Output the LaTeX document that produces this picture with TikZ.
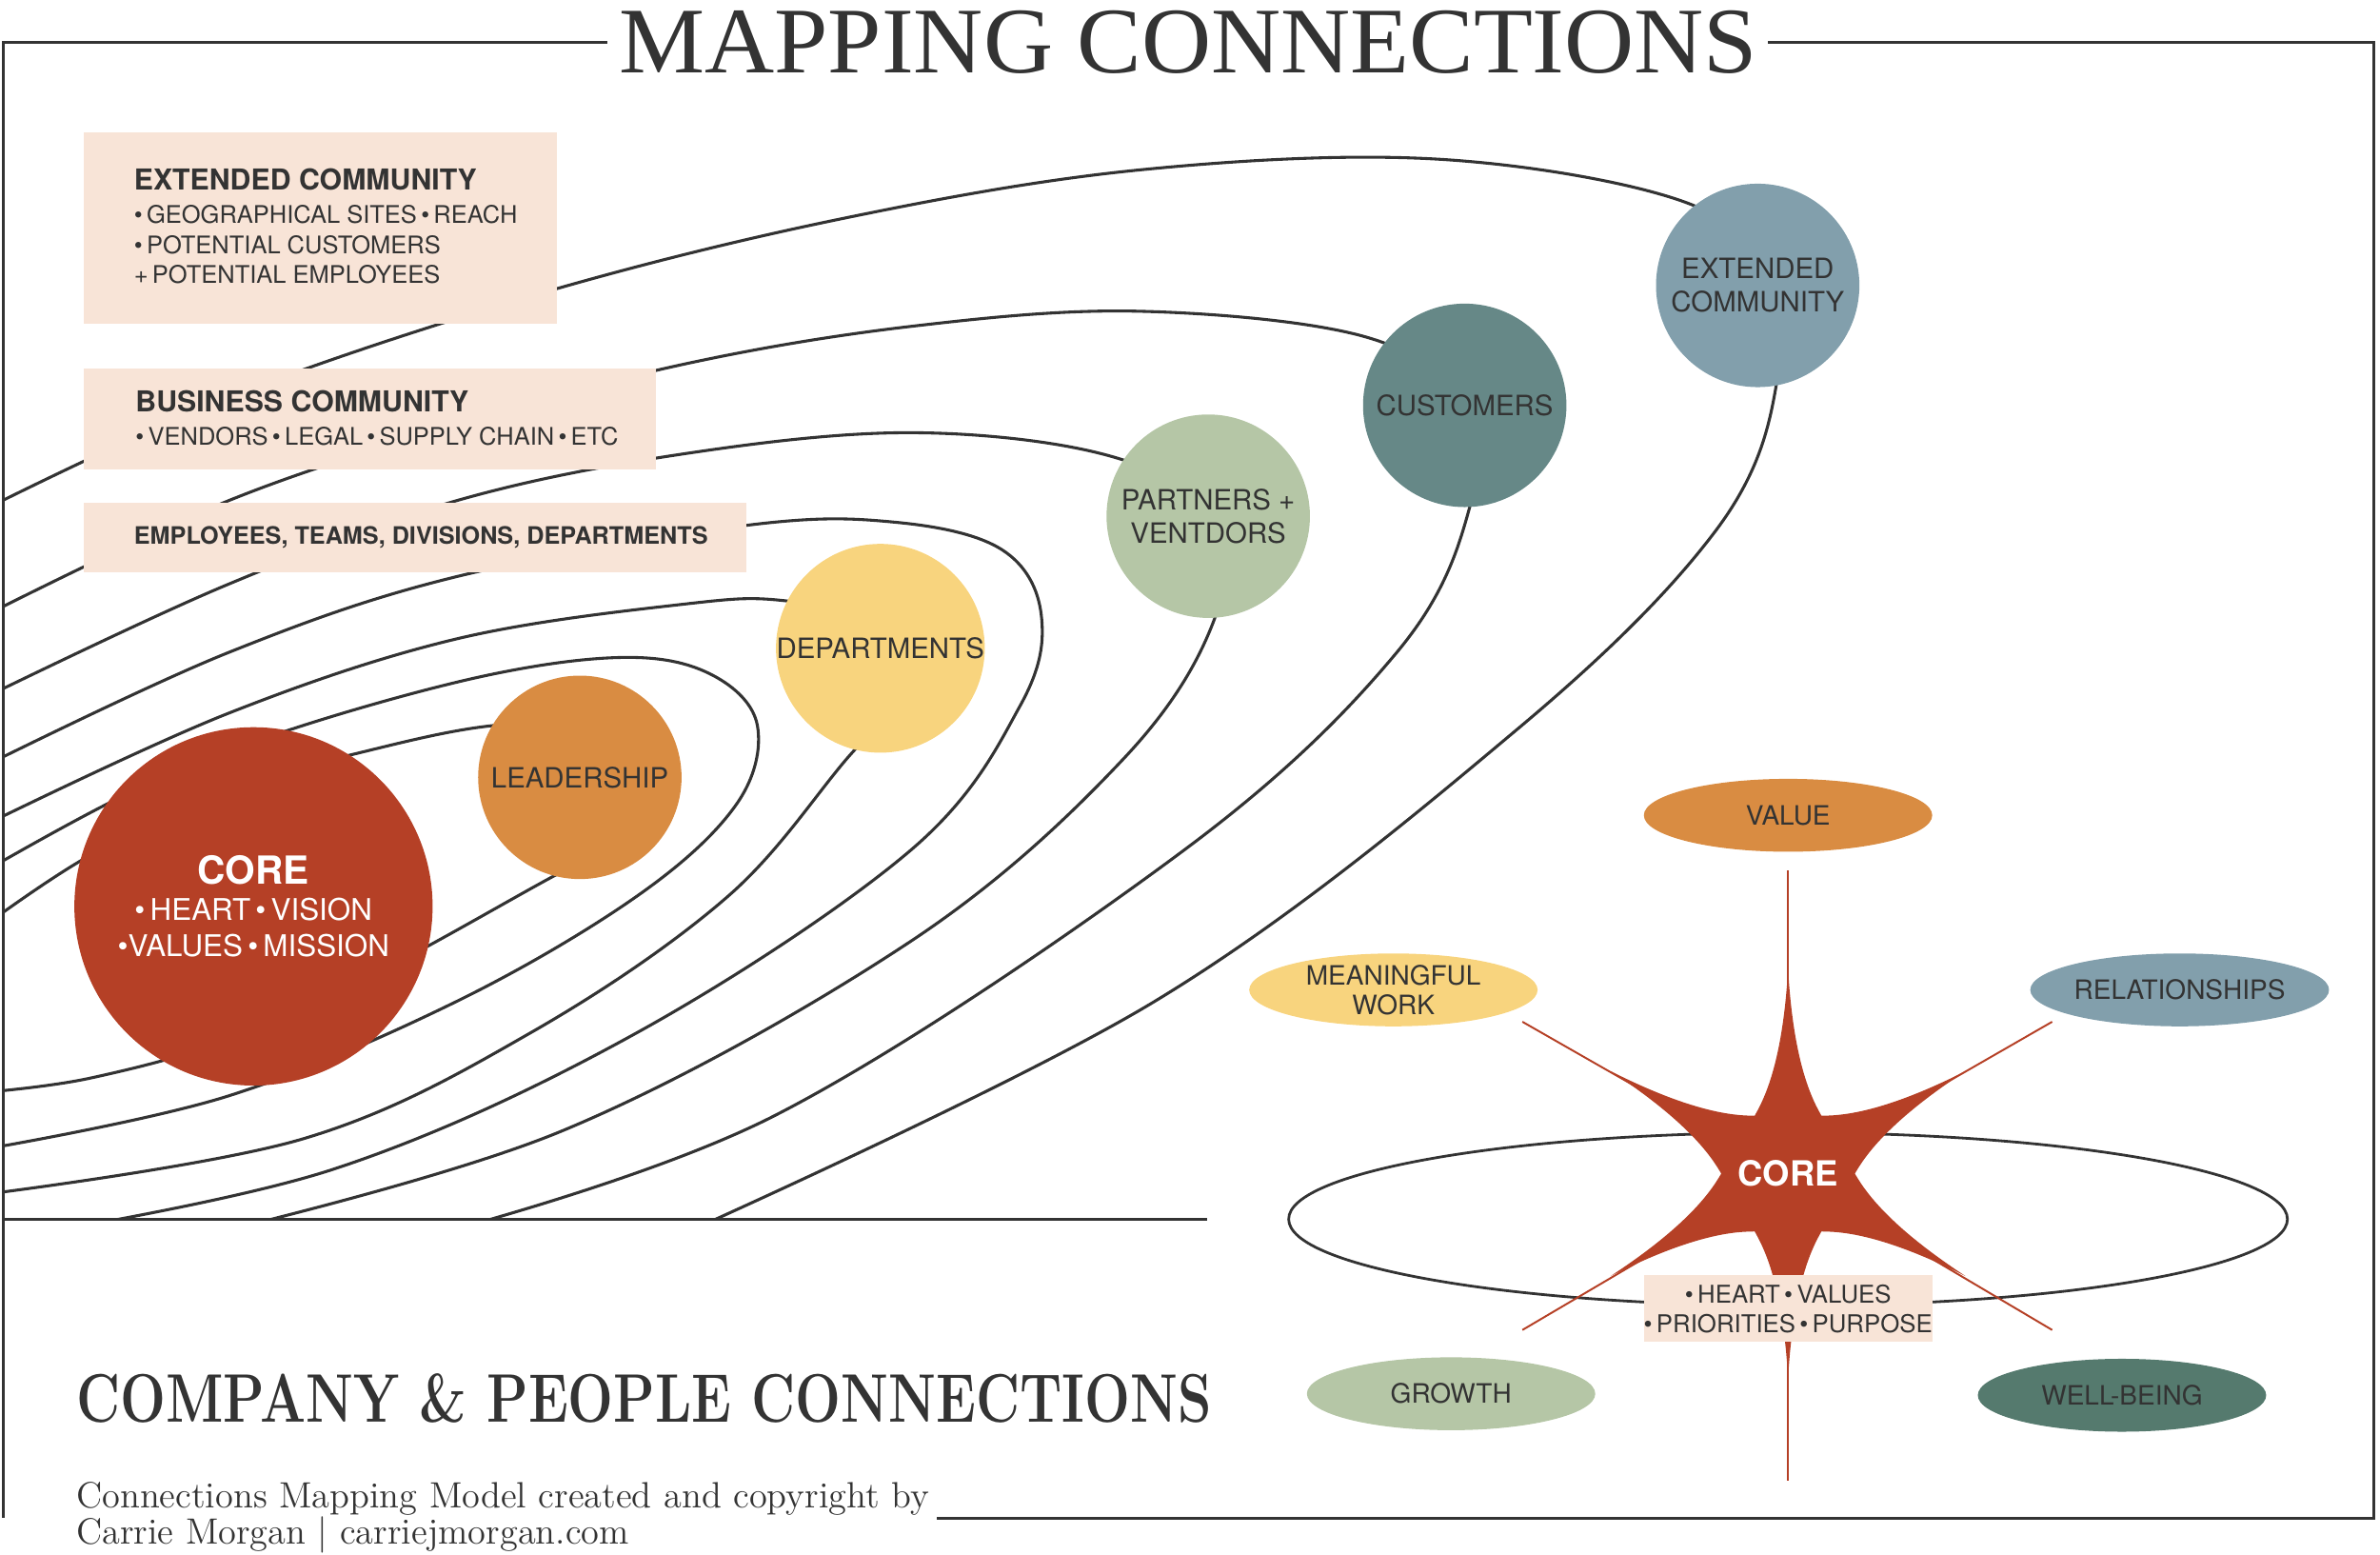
\documentclass[tikz,border=0pt]{standalone}
\usepackage{fontspec}
\usetikzlibrary{shapes.geometric}
\newfontfamily\hv{TeX Gyre Heros}
\newfontfamily\tserif{Liberation Serif}
\definecolor{ink}{HTML}{333333}
\definecolor{peach}{HTML}{F8E4D7}
\definecolor{cred}{HTML}{B54026}
\definecolor{corange}{HTML}{D98C42}
\definecolor{cyellow}{HTML}{F8D47E}
\definecolor{csage}{HTML}{B5C6A6}
\definecolor{cteal}{HTML}{668887}
\definecolor{cblue}{HTML}{829FAC}
\definecolor{cdkgreen}{HTML}{557A6E}
\begin{document}
\begin{tikzpicture}[x=0.02cm,y=-0.02cm,
  orbit/.style={draw=ink,line width=1.1pt},
  planet/.style={circle,minimum size=134*0.02cm,inner sep=0pt,align=center,text=ink,font=\hv\fontsize{10.5}{12.5}\selectfont},
  pill/.style={ellipse,minimum width=190*0.02cm,minimum height=48*0.02cm,inner sep=0pt,align=center,text=ink,font=\hv\fontsize{10}{11}\selectfont},
  ray/.style={draw=cred,line width=0.7pt}]
\useasboundingbox (0,0) rectangle (1568,1023.6);
% frame
\draw[ink,line width=1pt] (400,28) -- (2,28) -- (2,1000);
\draw[ink,line width=1pt] (1165,28) -- (1564,28) -- (1564,1000) -- (617,1000);
\draw[ink,line width=1pt] (2,803) -- (795,803);
\node[anchor=base,inner sep=0pt,text=ink,font=\tserif\fontsize{32}{36}\selectfont] (title) at (783,48) {\scalebox{1.13}[1.1]{MAPPING CONNECTIONS}};
% orbits
\begin{scope}
\clip (2,0) rectangle (1568,803);
\draw[orbit] plot[smooth,tension=0.6] coordinates {(-5,606) (60,563) (150,520) (232,497) (324,478) (410,478) (440,505) (420,548) (363,578) (250,640) (150,685) (60,710) (-5,719)};
\draw[orbit] plot[smooth,tension=0.6] coordinates {(-5,571) (90,520) (193,480) (320,445) (414,433) (470,445) (499,478) (485,530) (420,590) (300,660) (150,722) (-5,756)};
\draw[orbit] plot[smooth,tension=0.6] coordinates {(-5,541) (150,470) (300,421) (450,398) (520,396) (600,415) (610,450) (563,494) (480,590) (350,680) (200,750) (-5,786)};
\draw[orbit] plot[smooth,tension=0.6] coordinates {(-5,502) (150,430) (300,380) (492,346) (590,344) (660,362) (686,405) (672,465) (600,560) (420,680) (220,770) (10,815)};
\draw[orbit] plot[smooth,tension=0.6] coordinates {(-5,457) (150,385) (300,330) (450,299) (600,285) (730,300) (800,340) (800,408) (740,500) (600,620) (370,745) (130,815)};
\draw[orbit] plot[smooth,tension=0.6] coordinates {(-5,403) (150,330) (300,280) (450,240) (600,215) (750,205) (900,222) (965,267) (968,335) (920,430) (780,560) (510,735) (280,815)};
\draw[orbit] plot[smooth,tension=0.6] coordinates {(-5,333) (150,262) (350,195) (550,145) (750,112) (950,105) (1115,135) (1158,188) (1170,255) (1130,350) (1000,480) (760,660) (445,815)};
\end{scope}
% boxes
\fill[peach] (55,87) rectangle (367,213);
\node[anchor=north west,inner sep=0pt,align=left,text=ink,font=\hv\fontsize{9.1}{11.3}\selectfont] (ecbox) at (88,111) {{\bfseries\fontsize{10.8}{13}\selectfont EXTENDED COMMUNITY}\\[1pt]\textbullet\,GEOGRAPHICAL SITES\,\textbullet\,REACH\\\textbullet\,POTENTIAL CUSTOMERS\\+\,POTENTIAL EMPLOYEES};
\fill[peach] (55,243) rectangle (432,309);
\node[anchor=north west,inner sep=0pt,align=left,text=ink,font=\hv\fontsize{9.1}{11.3}\selectfont] (bcbox) at (89,257) {{\bfseries\fontsize{10.8}{13}\selectfont BUSINESS COMMUNITY}\\[1pt]\textbullet\,VENDORS\,\textbullet\,LEGAL\,\textbullet\,SUPPLY CHAIN\,\textbullet\,ETC};
\fill[peach] (55,331) rectangle (492,377);
\node[anchor=west,inner sep=0pt,text=ink,font=\hv\bfseries\fontsize{9}{11}\selectfont] (embox) at (88,354) {EMPLOYEES, TEAMS, DIVISIONS, DEPARTMENTS};
% planets
\node[circle,fill=cred,minimum size=236*0.02cm,inner sep=0pt,align=center,text=white,font=\hv\fontsize{11.2}{13.5}\selectfont] (core) at (167,597) {{\bfseries\fontsize{14.5}{17}\selectfont CORE}\\\textbullet\,HEART\,\textbullet\,VISION\\\textbullet VALUES\,\textbullet\,MISSION};
\node[planet,fill=corange] (lead) at (382,512) {LEADERSHIP};
\node[planet,fill=cyellow] (dept) at (580,427) {DEPARTMENTS};
\node[planet,fill=csage] (part) at (796,340) {PARTNERS +\\VENTDORS};
\node[planet,fill=cteal] (cust) at (965,267) {CUSTOMERS};
\node[planet,fill=cblue] (ext) at (1158,188) {EXTENDED\\COMMUNITY};
% bottom texts
\node[anchor=base west,inner sep=0pt,text=ink,font=\bfseries\fontsize{23}{26}\selectfont] (ctitle) at (50,937) {\scalebox{0.88}[1.12]{COMPANY \& PEOPLE CONNECTIONS}};
\node[anchor=base west,inner sep=0pt,align=left,text=ink,font=\fontsize{13.7}{13.6}\selectfont] (foot) at (50,1017) {Connections Mapping Model created and copyright by\\Carrie Morgan | carriejmorgan.com};
% right diagram
\coordinate (sc) at (1178,773);
\draw[ink,line width=1pt] (1178,803) ellipse [x radius=329,y radius=57];
\coordinate (tv) at (1178,573);
\coordinate (tb) at (1178,975);
\coordinate (tmw) at (1003,673);
\coordinate (trl) at (1352,673);
\coordinate (tgr) at (1003,876);
\coordinate (twb) at (1352,876);
\foreach \t in {tv,tb,tmw,trl,tgr,twb} \draw[ray] (sc) -- (\t);
\fill[cred,shift={(1178,773)},y=0.02cm]
  (120:44)
  \foreach \a in {90,30,-30,-90,-150,-210}{
   .. controls ({\a+20}:50) and ({\a+3}:70) .. (\a:135)
   .. controls ({\a-3}:70) and ({\a-20}:50) .. ({\a-30}:44)
  } -- cycle;
\node[text=white,font=\hv\bfseries\fontsize{13}{15}\selectfont] (score) at (1178,773) {CORE};
\node[fill=peach,inner sep=0pt,minimum width=188*0.02cm,minimum height=44*0.02cm,align=center,text=ink,font=\hv\fontsize{9.2}{11.2}\selectfont] (sbox) at (1178,862) {\textbullet\,HEART\,\textbullet\,VALUES\\\textbullet\,PRIORITIES\,\textbullet\,PURPOSE};
\node[pill,fill=corange] (value) at (1178,537) {VALUE};
\node[pill,fill=cyellow] (mwork) at (918,652) {MEANINGFUL\\WORK};
\node[pill,fill=cblue] (rel) at (1436,652) {RELATIONSHIPS};
\node[pill,fill=csage] (growth) at (956,918) {GROWTH};
\node[pill,fill=cdkgreen] (well) at (1398,919) {WELL-BEING};
\end{tikzpicture}
\end{document}
